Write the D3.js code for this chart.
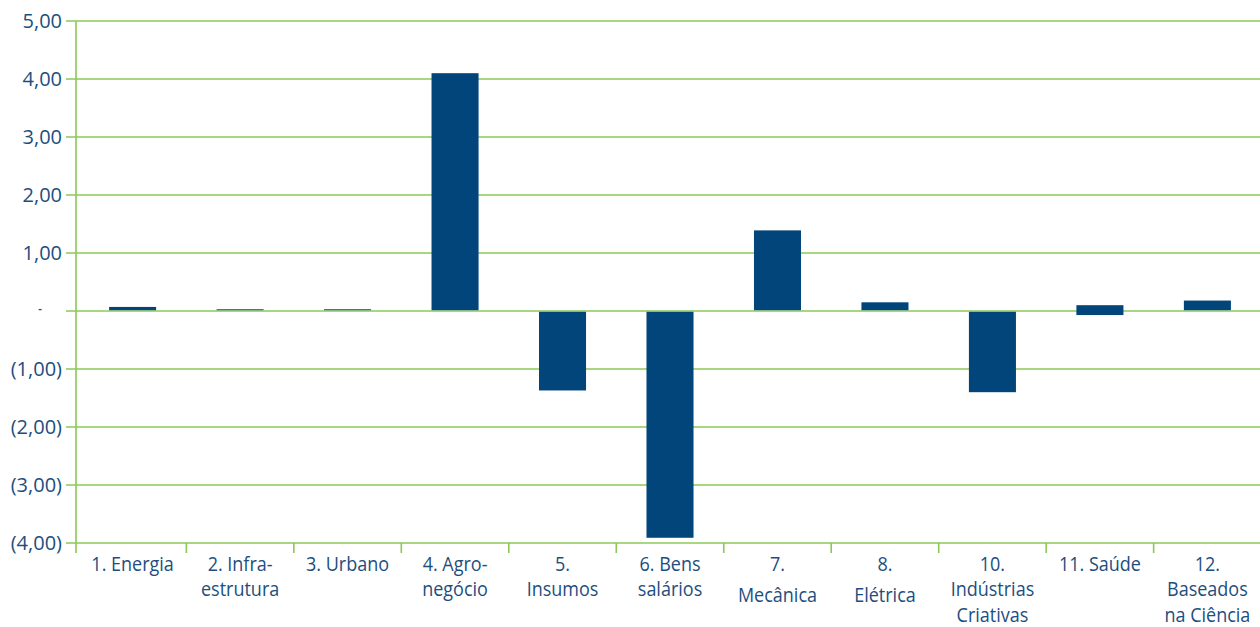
<!DOCTYPE html>
<html>
<head>
<meta charset="utf-8">
<script src="https://cdn.jsdelivr.net/npm/d3@7"></script>
<style>
  html, body { margin: 0; padding: 0; background: #ffffff; }
  svg { display: block; }
  text { font-family: "Open Sans", "Noto Sans", sans-serif; fill: #1d4e7e; }
</style>
</head>
<body>
<svg id="chart" width="1260" height="627"></svg>
<script>
// Setores (rótulos do eixo horizontal, quebrados em linhas)
const categorias = ["1", "2", "3", "4", "5", "6", "7", "8", "10", "11", "12"];
const rotulos = [
  ["1. Energia"],
  ["2. Infra-", "estrutura"],
  ["3. Urbano"],
  ["4. Agro-", "negócio"],
  ["5.", "Insumos"],
  ["6. Bens", "salários"],
  ["7.", "Mecânica"],
  ["8.", "Elétrica"],
  ["10.", "Indústrias", "Criativas"],
  ["11. Saúde"],
  ["12.", "Baseados", "na Ciência"]
];
// Parcelas positiva e negativa de cada setor (empilhadas a partir do zero)
const valoresPositivos = [0.07, 0.03, 0.03, 4.10, 0, 0, 1.39, 0.15, 0, 0.10, 0.18];
const valoresNegativos = [0, 0, 0, 0, -1.37, -3.91, 0, 0, -1.40, -0.07, 0];
// Marcas do eixo vertical
const ticksY = [5, 4, 3, 2, 1, 0, -1, -2, -3, -4];

const svg = d3.select("#chart");
const axisX = 76;           // posição do eixo vertical
const gridLeft = 66;        // início das linhas de grade
const width = 1260;

const y = d3.scaleLinear().domain([-4, 5]).range([543, 21]);
const x = d3.scaleBand().domain(categorias).range([79, 1261])
  .paddingInner(0.5624).paddingOuter(0.28);

const green = "#8bc857";
const barColor = "#01457b";

// formato contábil: negativos entre parênteses, zero como traço
const fmt = v => {
  if (v === 0) return "-";
  const s = d3.format(".2f")(Math.abs(v)).replace(".", ",");
  return v < 0 ? "(" + s + ")" : s;
};

// linhas de grade horizontais
svg.append("g").selectAll("line").data(ticksY).join("line")
  .attr("x1", gridLeft).attr("x2", width)
  .attr("y1", d => y(d)).attr("y2", d => y(d))
  .attr("stroke", green).attr("stroke-width", 1.6);

// eixo vertical
svg.append("line")
  .attr("x1", axisX).attr("x2", axisX)
  .attr("y1", y(5)).attr("y2", y(-4) + 10)
  .attr("stroke", green).attr("stroke-width", 1.6);

// marcas das categorias no eixo inferior
const step = x.step();
const fronteiras = categorias.slice(1).map(c => x(c) - x.paddingInner() * step / 2);
svg.append("g").selectAll("line").data(fronteiras).join("line")
  .attr("x1", d => d).attr("x2", d => d)
  .attr("y1", y(-4)).attr("y2", y(-4) + 10)
  .attr("stroke", green).attr("stroke-width", 1.6);

// rótulos do eixo vertical
svg.append("g").selectAll("text").data(ticksY).join("text")
  .attr("x", d => d === 0 ? 40 : 62)
  .attr("y", d => y(d))
  .attr("dy", d => d === 0 ? "0.05em" : "0.35em")
  .attr("text-anchor", d => d === 0 ? "middle" : "end")
  .style("font-size", d => d === 0 ? "11px" : "20px")
  .style("font-weight", d => d === 0 ? "bold" : "normal")
  .text(fmt);

// barras: parcela positiva e parcela negativa
const y0 = y(0);
const barras = [];
categorias.forEach((c, i) => {
  const p = valoresPositivos[i], n = valoresNegativos[i];
  if (p > 0) barras.push({ c, top: y(p), bottom: n < 0 ? y0 : y0 - 0.8 });
  if (n < 0) barras.push({ c, top: p > 0 ? y0 : y0 + 0.8, bottom: y(n) });
});
svg.append("g").selectAll("rect").data(barras).join("rect")
  .attr("x", d => x(d.c))
  .attr("width", x.bandwidth())
  .attr("y", d => d.top)
  .attr("height", d => d.bottom - d.top)
  .attr("fill", barColor);

// rótulos das categorias (letra estreita: escala horizontal reduzida)
const lab = svg.append("g").selectAll("text").data(categorias).join("text")
  .attr("text-anchor", "middle")
  .style("font-size", "20px")
  .attr("transform", d => `translate(${x(d) + x.bandwidth() / 2},571) scale(0.9,1)`);
lab.selectAll("tspan").data((d, i) => rotulos[i]).join("tspan")
  .attr("x", 0)
  .attr("y", (d, j) => j * 25.5 + (j > 0 && (d === "Mecânica" || d === "Elétrica") ? 6 : 0))
  .text(d => d);
</script>
</body>
</html>
